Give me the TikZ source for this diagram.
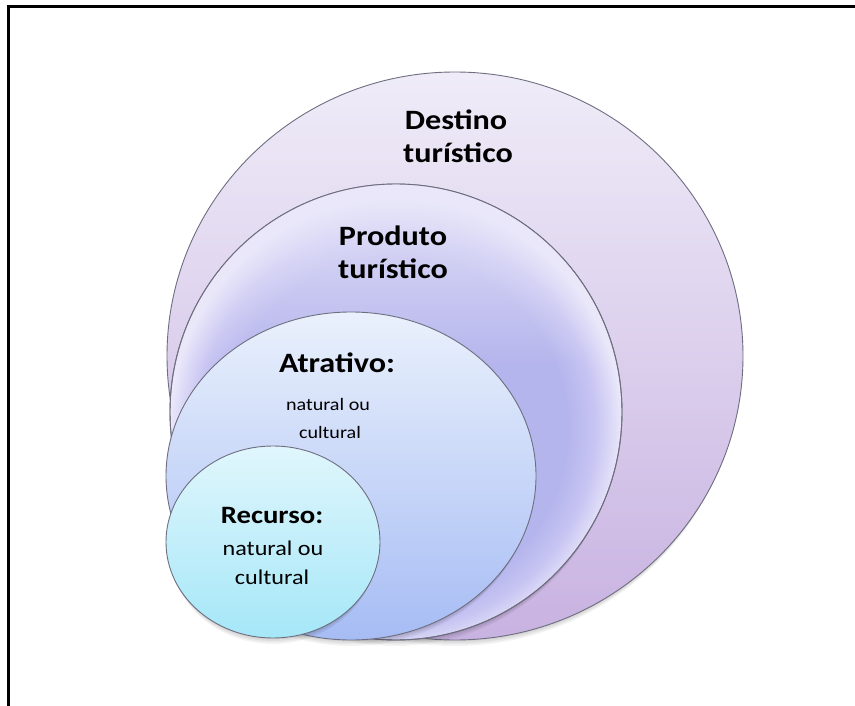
\documentclass[tikz,border=0pt]{standalone}
\usepackage{fontspec}
\setmainfont{Carlito}
\usetikzlibrary{fadings,calc}
\definecolor{destTop}{HTML}{EFECF8}
\definecolor{destBot}{HTML}{C8B2E1}
\definecolor{atrTop}{HTML}{EAF1FC}
\definecolor{atrBot}{HTML}{A6BCF4}
\definecolor{recTop}{HTML}{E0F6FC}
\definecolor{recBot}{HTML}{A5E7F8}
\definecolor{prodEdge}{HTML}{E9E7F9}
\definecolor{rim}{HTML}{6E6E80}
\pgfdeclareradialshading{produtoshade}{\pgfpoint{0bp}{-3bp}}{%
  rgb(0bp)=(0.71,0.71,0.93);
  rgb(19bp)=(0.71,0.71,0.93);
  rgb(22bp)=(0.78,0.77,0.95);
  rgb(24bp)=(0.87,0.86,0.97);
  rgb(25bp)=(0.92,0.91,0.98);
  rgb(50bp)=(0.92,0.91,0.98)}
\pgfdeclareverticalshading{topfadesh}{100bp}{%
  color(0bp)=(pgftransparent!100);
  color(55bp)=(pgftransparent!100);
  color(66bp)=(pgftransparent!50);
  color(75bp)=(pgftransparent!15);
  color(100bp)=(pgftransparent!15)}
\pgfdeclarefading{topfade}{\pgfuseshading{topfadesh}}
\tikzset{
  ring/.style={draw=rim, line width=0.9pt},
  shade1/.style={fill=black, fill opacity=0.045},
  title/.style={anchor=base, font=\fontsize{28}{30}\selectfont\bfseries, xscale=1.15, inner sep=0pt},
  rtitle/.style={anchor=base, font=\fontsize{25}{27}\selectfont\bfseries, xscale=1.15, inner sep=0pt},
  asub/.style={anchor=base, font=\fontsize{17.5}{19}\selectfont, xscale=1.15, inner sep=0pt},
  rsub/.style={anchor=base, font=\fontsize{21}{23}\selectfont, xscale=1.15, inner sep=0pt},
}
\newcommand{\softshadow}[3]{%
  \foreach \d in {1.5,3,4.5,6}{\fill[shade1] ($(#1)+(0,\d)$) ellipse [x radius=#2-0.5*\d, y radius=#3];}}
\begin{document}
\begin{tikzpicture}[x=1pt,y=-1pt]
\useasboundingbox (0,0) rectangle (855,706);
\fill[white] (0,0) rectangle (855,706);
\draw[line width=3pt] (8,706) -- (8,7) -- (855,7);
% Destino
\softshadow{455,356}{288}{284}
\path[ring, top color=destTop, bottom color=destBot] (455,356) ellipse [x radius=288, y radius=284];
% Produto
\softshadow{396,412}{226}{228}
\path[ring, shading=produtoshade] (396,412) ellipse [x radius=226, y radius=228];
\fill[prodEdge, path fading=topfade] (396,412) ellipse [x radius=226, y radius=228];
\draw[rim, line width=0.9pt] (396,412) ellipse [x radius=226, y radius=228];
% Atrativo
\softshadow{351,476}{185}{164}
\path[ring, top color=atrTop, bottom color=atrBot] (351,476) ellipse [x radius=185, y radius=164];
% Recurso
\softshadow{273,542}{107}{96}
\path[ring, top color=recTop, bottom color=recBot] (273,542) ellipse [x radius=107, y radius=96];
% texts
\node[title] (d1) at (456,130) {Destino};
\node[title] (d2) at (458,163) {turístico};
\node[title] (p1) at (393,245) {Produto};
\node[title] (p2) at (393,278) {turístico};
\node[title] (a1) at (337,372) {Atrativo:};
\node[asub] (a2) at (328,410) {natural ou};
\node[asub] (a3) at (330,438) {cultural};
\node[rtitle] (r1) at (272,523) {Recurso:};
\node[rsub] (r2) at (273,555) {natural ou};
\node[rsub] (r3) at (272,584) {cultural};
\end{tikzpicture}
\end{document}
